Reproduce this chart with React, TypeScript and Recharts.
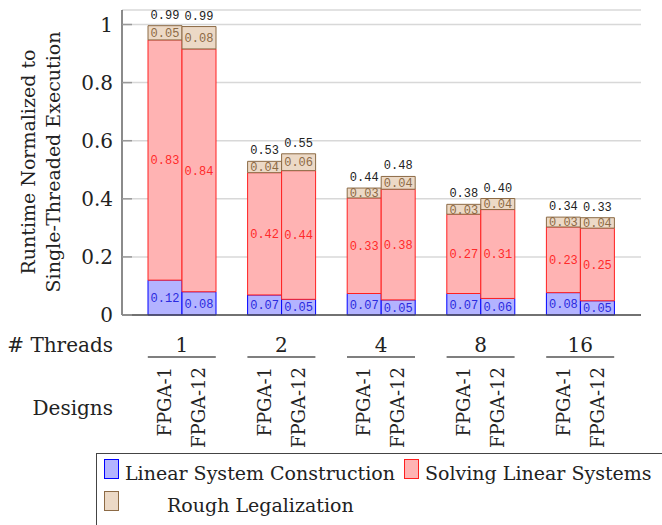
import { BarChart, Bar, XAxis, YAxis, CartesianGrid, LabelList } from "recharts";

const threads = ["1", "2", "4", "8", "16"];
const designs = ["FPGA-1", "FPGA-12"];

// segment values (FPGA-1 / FPGA-12)
const lscFpga1 = [0.12, 0.069, 0.074, 0.074, 0.077];
const slsFpga1 = [0.827, 0.421, 0.329, 0.273, 0.226];
const rlFpga1 = [0.049, 0.039, 0.034, 0.034, 0.034];
const lscFpga12 = [0.08, 0.054, 0.052, 0.057, 0.049];
const slsFpga12 = [0.836, 0.443, 0.381, 0.306, 0.25];
const rlFpga12 = [0.077, 0.058, 0.044, 0.038, 0.036];
const totalFpga1 = [0.99, 0.53, 0.44, 0.38, 0.34];
const totalFpga12 = [0.99, 0.55, 0.48, 0.4, 0.33];

const yTicks = [0, 0.2, 0.4, 0.6, 0.8, 1];

const data = threads.map((t, i) => ({
  t,
  lsc1: lscFpga1[i],
  sls1: slsFpga1[i],
  rl1: rlFpga1[i],
  tot1: totalFpga1[i],
  lsc12: lscFpga12[i],
  sls12: slsFpga12[i],
  rl12: rlFpga12[i],
  tot12: totalFpga12[i],
}));

const SERIF = "'DejaVu Serif', 'DejaVu Sans', serif";
const MONO = "'Liberation Mono', monospace";

const BLUE = { fill: "#b3b3ff", stroke: "#0000ff", text: "#2a2ae0" };
const RED = { fill: "#ffb3b3", stroke: "#ff2020", text: "#ff2a2a" };
const TAN = { fill: "#ecd9c6", stroke: "#8c6a45", text: "#8c6a45" };

const f2 = (v: any) => Number(v).toFixed(2);

function ThreadTick({ x, y, payload }: any) {
  return (
    <g>
      <text x={x} y={y + 37} textAnchor="middle" fontFamily={SERIF} fontSize={20} fill="#222">
        {payload.value}
      </text>
      <line x1={x - 34} x2={x + 34} y1={y + 42} y2={y + 42} stroke="#555" strokeWidth={1.3} />
      {designs.map((d, i) => {
        const dx = x + (i === 0 ? -17 : 17);
        const dy = y + 52;
        return (
          <text
            key={d}
            x={dx}
            y={dy}
            dy="0.36em"
            transform={`rotate(-90 ${dx} ${dy})`}
            textAnchor="end"
            fontFamily={SERIF}
            fontSize={18}
            fill="#222"
          >
            {d}
          </text>
        );
      })}
    </g>
  );
}

function RuntimeTick({ x, y, payload }: any) {
  // label left of the axis, short tick mark inside the plot
  return (
    <g>
      <text x={x} y={y} dy="0.36em" textAnchor="end" fontFamily={SERIF} fontSize={20} fill="#222">
        {payload.value}
      </text>
      <line x1={x + 9} x2={x + 19} y1={y} y2={y} stroke="#999" strokeWidth={1.5} />
    </g>
  );
}

function Swatch({ c, left, top }: { c: typeof BLUE; left: number; top: number }) {
  return (
    <div
      style={{
        position: "absolute",
        left,
        top,
        width: 13,
        height: 18,
        background: c.fill,
        border: `1px solid ${c.stroke}`,
      }}
    />
  );
}

export default function App() {
  return (
    <div style={{ position: "absolute", left: 0, top: 0, width: 662, height: 525, overflow: "hidden", background: "#fff" }}>
      <BarChart width={662} height={525} data={data} margin={{ top: 10, right: 21, bottom: 80, left: 62 }} barGap={0} barSize={34}>
        <CartesianGrid vertical={false} stroke="#d8d8d8" strokeWidth={1.5} />
        <XAxis
          dataKey="t"
          interval={0}
          height={130}
          padding={{ left: 10, right: 11 }}
          tickSize={0}
          tickMargin={0}
          tickLine={false}
          tick={<ThreadTick />}
          axisLine={{ stroke: "#4d4d4d", strokeWidth: 1.3 }}
        />
        <YAxis
          width={60}
          domain={[0, 1.05]}
          ticks={yTicks}
          tickLine={false}
          tickSize={6}
          tickMargin={3}
          axisLine={{ stroke: "#4d4d4d", strokeWidth: 1.3 }}
          tick={<RuntimeTick />}
        />
        <Bar dataKey="lsc1" stackId="a" fill={BLUE.fill} stroke={BLUE.stroke} isAnimationActive={false}>
          <LabelList dataKey="lsc1" position="center" formatter={f2} fill={BLUE.text} fontFamily={MONO} fontSize={12} />
        </Bar>
        <Bar dataKey="sls1" stackId="a" fill={RED.fill} stroke={RED.stroke} isAnimationActive={false}>
          <LabelList dataKey="sls1" position="center" formatter={f2} fill={RED.text} fontFamily={MONO} fontSize={12} />
        </Bar>
        <Bar dataKey="rl1" stackId="a" fill={TAN.fill} stroke={TAN.stroke} isAnimationActive={false}>
          <LabelList dataKey="rl1" position="center" formatter={f2} fill={TAN.text} fontFamily={MONO} fontSize={12} />
          <LabelList dataKey="tot1" position="top" offset={7} formatter={f2} fill="#222" fontFamily={MONO} fontSize={12} />
        </Bar>
        <Bar dataKey="lsc12" stackId="b" fill={BLUE.fill} stroke={BLUE.stroke} isAnimationActive={false}>
          <LabelList dataKey="lsc12" position="center" formatter={f2} fill={BLUE.text} fontFamily={MONO} fontSize={12} />
        </Bar>
        <Bar dataKey="sls12" stackId="b" fill={RED.fill} stroke={RED.stroke} isAnimationActive={false}>
          <LabelList dataKey="sls12" position="center" formatter={f2} fill={RED.text} fontFamily={MONO} fontSize={12} />
        </Bar>
        <Bar dataKey="rl12" stackId="b" fill={TAN.fill} stroke={TAN.stroke} isAnimationActive={false}>
          <LabelList dataKey="rl12" position="center" formatter={f2} fill={TAN.text} fontFamily={MONO} fontSize={12} />
          <LabelList dataKey="tot12" position="top" offset={7} formatter={f2} fill="#222" fontFamily={MONO} fontSize={12} />
        </Bar>
      </BarChart>

      <svg width={662} height={525} style={{ position: "absolute", left: 0, top: 0, pointerEvents: "none" }}>
        <g fontFamily={SERIF} fill="#222">
          <text x={28} y={162} dy="0.36em" fontSize={19} textAnchor="middle" transform="rotate(-90 28 162)">
            Runtime Normalized to
          </text>
          <text x={53} y={162} dy="0.36em" fontSize={19} textAnchor="middle" transform="rotate(-90 53 162)">
            Single-Threaded Execution
          </text>
          <text x={113} y={352} fontSize={20} textAnchor="end">
            # Threads
          </text>
          <text x={113} y={415} fontSize={20} textAnchor="end">
            Designs
          </text>
        </g>
      </svg>

      <div
        style={{
          position: "absolute",
          left: 96,
          top: 453,
          width: 640,
          height: 120,
          border: "1px solid #444",
          background: "#fff",
          fontFamily: SERIF,
          fontSize: 19,
          color: "#222",
          whiteSpace: "nowrap",
        }}
      >
        <Swatch c={BLUE} left={7} top={5} />
        <div style={{ position: "absolute", left: 28, top: 8, lineHeight: "22px" }}>Linear System Construction</div>
        <Swatch c={RED} left={307} top={5} />
        <div style={{ position: "absolute", left: 328, top: 8, lineHeight: "22px" }}>Solving Linear Systems</div>
        <Swatch c={TAN} left={7} top={37} />
        <div style={{ position: "absolute", left: 70, top: 40, lineHeight: "22px" }}>Rough Legalization</div>
      </div>
    </div>
  );
}
